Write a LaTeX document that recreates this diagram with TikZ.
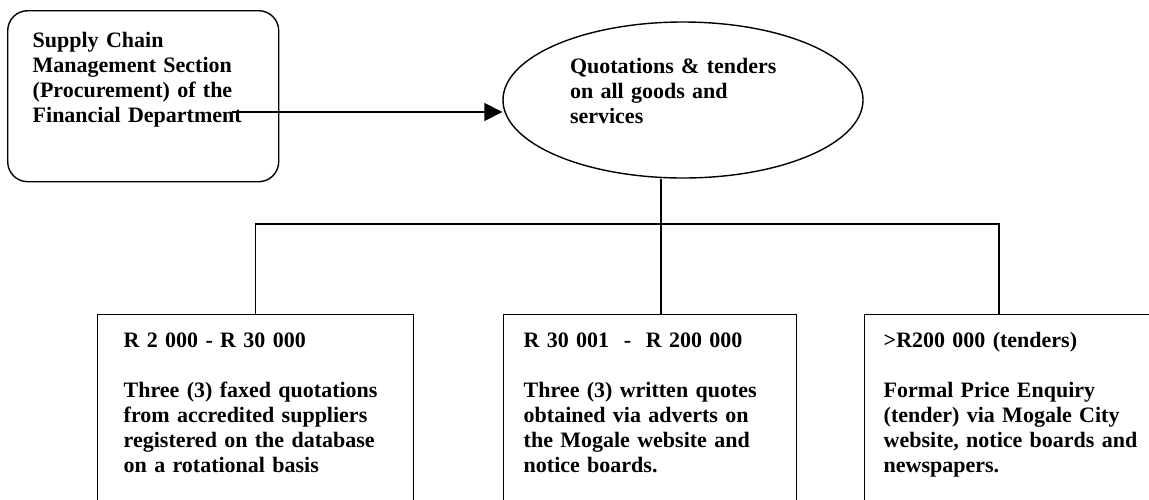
\documentclass[tikz,border=0pt]{standalone}
\usepackage{fontspec}
\setmainfont{Liberation Serif}
\usetikzlibrary{shapes.geometric,arrows.meta}
\begin{document}
\begin{tikzpicture}[x=0.5pt, y=-0.5pt, line width=0.7pt,
    txt/.style={font=\fontsize{11}{12.5}\selectfont\bfseries, align=left, anchor=north west, text height=7pt},
    pricebox/.style={txt, draw, inner ysep=9.5pt, text depth=82pt}]
    \clip (0,0) rectangle (1149,499);
    \node[txt, draw, rounded corners=10pt, inner xsep=12.5pt, inner ysep=11.5pt, text width=110.5pt, text depth=55.5pt] (scm) at (7,10) {Supply Chain\\Management Section\\(Procurement) of the\\Financial Department};
    \node[txt, ellipse, draw, anchor=center, inner sep=0pt, minimum width=180pt, minimum height=78pt, text width=113pt, text depth=34pt] (quotes) at (683,100) {Quotations \& tenders\\on all goods and\\services};
    \node[pricebox, inner xsep=13pt, text width=132pt] (low) at (97,314) {R 2 000 - R 30 000\\[12.5pt]Three (3) faxed quotations\\from accredited suppliers\\registered on the database\\on a rotational basis};
    \node[pricebox, inner xsep=10pt, text width=126.5pt] (mid) at (503,314) {R 30 001\ \ -\ \ R 200 000\\[12.5pt]Three (3) written quotes\\obtained via adverts on\\the Mogale website and\\notice boards.};
    \node[pricebox, inner xsep=9.5pt, text width=131pt] (high) at (864,314) {>R200 000 (tenders)\\[12.5pt]Formal Price Enquiry\\(tender) via Mogale City\\website, notice boards and\\newspapers.};
    \coordinate (tail) at (232,112);
    \coordinate (split) at (661,224);
    \draw[-{Triangle[length=9pt,width=9pt]}] (tail) -- (tail -| quotes.west);
    \draw (quotes.south -| split) -- (split);
    \draw (low.north) |- (split) -| ([xshift=67.5pt]high.north west);
    \draw (split) -- (split |- mid.north);
\end{tikzpicture}
\end{document}
